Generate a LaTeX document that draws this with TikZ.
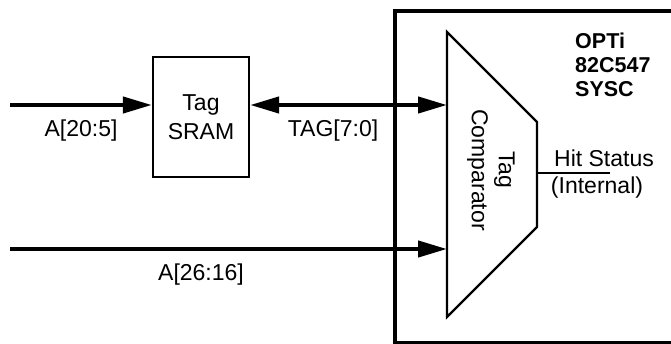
\documentclass[tikz,border=0pt]{standalone}
\usepackage{fontspec}
\setmainfont{Liberation Sans}
\usetikzlibrary{arrows.meta,calc}
\begin{document}
\begin{tikzpicture}[x=1pt,y=-1pt,
  lbl/.style={font=\fontsize{23}{29}\selectfont, inner sep=0pt, anchor=base},
  bus/.style={line width=4.2pt, -{Triangle[length=29pt,width=16pt]}},
  dbus/.style={line width=4.2pt, {Triangle[length=29pt,width=16pt]}-{Triangle[length=29pt,width=16pt]}},
  blk/.style={draw, line width=2.2pt, inner sep=0pt}]
\useasboundingbox (0,0) rectangle (671,343);
\begin{scope}
\clip (0,0) rectangle (671,343);
\node[draw, line width=4.2pt, anchor=north west, minimum width=300pt, minimum height=332pt, inner sep=0pt] (sysc) at (393,9) {};
\end{scope}
% Tag SRAM
\node[blk, minimum width=96pt, minimum height=120pt, align=center, font=\fontsize{23}{29}\selectfont] (sram) at (201,117) {Tag\\SRAM};
% comparator trapezoid
\coordinate (cTL) at (447,32);
\coordinate (cTR) at (537,122);
\coordinate (cBR) at (537,227);
\coordinate (cBL) at (447,317);
\draw[line width=2.2pt, line join=miter] (cTL) -- (cTR) -- (cBR) -- (cBL) -- cycle;
\node[rotate=-90, align=center, font=\fontsize{23}{27}\selectfont, inner sep=0pt] (cmp) at (491,170) {Tag\\Comparator};
% inputs
\coordinate (in1) at (10,105);
\coordinate (in2) at (10,249);
\draw[bus] (in1) -- (in1 -| sram.west);
\draw[dbus] (in1 -| sram.east) -- (in1 -| cTL);
\draw[bus] (in2) -- (in2 -| cTL);
\node[lbl] (la) at (81,136) {A[20:5]};
\node[lbl] (lt) at (333,136) {TAG[7:0]};
\node[lbl] (lb) at (201,280) {A[26:16]};
% hit status
\coordinate (hitE) at (610,173);
\draw[line width=1.6pt] (cTR |- hitE) -- (hitE);
\node[lbl] (hs) at (604,166) {Hit Status};
\node[lbl] (hi) at (597,193) {(Internal)};
% chip name
\node[anchor=north west, align=left, font=\bfseries\fontsize{21.5}{24}\selectfont, inner sep=0pt] (chip) at (575,33) {OPTi\\82C547\\SYSC};
\end{tikzpicture}
\end{document}
